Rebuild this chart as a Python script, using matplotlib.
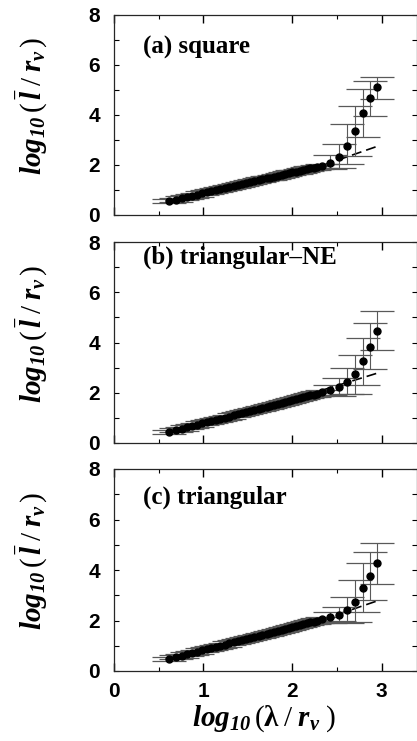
import numpy as np
import matplotlib
matplotlib.use("Agg")
from matplotlib import pyplot as plt
from matplotlib.ticker import FixedLocator

plt.rcParams['mathtext.fontset'] = 'custom'
plt.rcParams['mathtext.rm'] = 'Liberation Serif'
plt.rcParams['mathtext.it'] = 'Liberation Serif:italic'
plt.rcParams['mathtext.bf'] = 'Liberation Serif:bold'
plt.rcParams['mathtext.bfit'] = 'Liberation Serif:bold:italic'

# x = log10(lambda / r_v), shared by all three panels
x = [0.62, 0.70, 0.76, 0.82, 0.88, 0.93, 0.99, 1.04, 1.09, 1.14, 1.19, 1.24, 1.29,
     1.34, 1.39, 1.44, 1.48, 1.53, 1.57, 1.62, 1.66, 1.71, 1.75, 1.79, 1.84, 1.88,
     1.92, 1.96, 2.00, 2.04, 2.08, 2.12, 2.16, 2.20, 2.24, 2.28, 2.33,
     2.42, 2.52, 2.61, 2.70, 2.79, 2.87, 2.95]

# panel (a) square
ya = [0.55, 0.62, 0.67, 0.72, 0.78, 0.82, 0.87, 0.92, 0.95, 1.00, 1.04, 1.08, 1.12,
      1.17, 1.20, 1.25, 1.28, 1.32, 1.36, 1.39, 1.43, 1.47, 1.50, 1.54, 1.57, 1.61,
      1.64, 1.67, 1.71, 1.74, 1.77, 1.80, 1.84, 1.87, 1.90, 1.94, 1.98,
      2.09, 2.33, 2.76, 3.37, 4.07, 4.67, 5.11]
# panel (b) triangular-NE
yb = [0.43, 0.50, 0.56, 0.62, 0.67, 0.72, 0.78, 0.82, 0.87, 0.91, 0.96, 1.01, 1.05,
      1.10, 1.15, 1.19, 1.23, 1.28, 1.31, 1.36, 1.40, 1.45, 1.48, 1.52, 1.57, 1.60,
      1.64, 1.68, 1.71, 1.75, 1.79, 1.83, 1.86, 1.90, 1.93, 1.97, 2.01,
      2.11, 2.24, 2.44, 2.74, 3.28, 3.84, 4.47]
# panel (c) triangular
yc = [0.48, 0.55, 0.61, 0.66, 0.72, 0.76, 0.82, 0.86, 0.91, 0.95, 1.00, 1.04, 1.09,
      1.14, 1.18, 1.23, 1.26, 1.31, 1.35, 1.39, 1.43, 1.47, 1.51, 1.55, 1.59, 1.63,
      1.66, 1.70, 1.74, 1.78, 1.81, 1.85, 1.89, 1.93, 1.96, 2.00, 2.04,
      2.12, 2.22, 2.42, 2.74, 3.30, 3.77, 4.26]

# error bars (lower, upper); the bulk ones are tiny
bulk_err = [0.08] * 37
err_a_lo = bulk_err + [0.25, 0.45, 0.70, 1.00, 0.94, 0.71, 0.46]
err_a_hi = bulk_err + [0.30, 0.50, 0.88, 1.00, 0.96, 0.70, 0.42]
err_b_lo = bulk_err + [0.20, 0.35, 0.50, 0.80, 0.98, 0.90, 0.76]
err_b_hi = bulk_err + [0.20, 0.35, 0.54, 0.77, 0.89, 0.93, 0.79]
err_c_lo = bulk_err + [0.20, 0.25, 0.50, 0.79, 0.98, 0.96, 0.83]
err_c_hi = bulk_err + [0.20, 0.33, 0.52, 0.86, 0.99, 0.95, 0.82]

# dashed straight-line fit continued into the tail
fit_x = [2.35, 2.97]
fit_a = [2.00, 2.77]
fit_b = [2.12, 2.80]
fit_c = [2.05, 2.80]

labels = ['(a) square', '(b) triangular\u2013NE', '(c) triangular']
label_y = [0.84, 0.925, 0.86]

W, H = 417, 741
fig = plt.figure(figsize=(W / 100, H / 100), dpi=100)

left = 114 / W
width = 302.5 / W
boxes = [(15, 215), (242, 443), (469, 671)]

panels = [(ya, err_a_lo, err_a_hi, fit_a),
          (yb, err_b_lo, err_b_hi, fit_b),
          (yc, err_c_lo, err_c_hi, fit_c)]

ylab = r'$\mathbfit{log}_{\mathbfit{10}}\,(\,\bar{\mathbfit{l}}\;/\;\mathbfit{r}_{\mathbfit{v}}\,)$'
xlab = r'$\mathbfit{log}_{\mathbfit{10}}\,(\mathbf{\lambda}\;/\;\mathbfit{r}_{\mathbfit{v}}\;)$'

for i, (y, elo, ehi, fy) in enumerate(panels):
    top, bot = boxes[i]
    ax = fig.add_axes([left, (H - bot) / H, width, (bot - top) / H])
    ax.plot(fit_x, fy, color='k', lw=1.2, ls=(0, (6, 3)), zorder=1)
    ax.errorbar(x, y, yerr=[elo, ehi], fmt='o', color='k', ms=5,
                ecolor='0.35', elinewidth=0.8, capsize=12, capthick=0.9, zorder=2)
    ax.set_xlim(0, 302.5 / 89.2)
    ax.set_ylim(0, 8)
    ax.set_yticks([0, 2, 4, 6, 8])
    ax.yaxis.set_minor_locator(FixedLocator([1, 3, 5, 7]))
    ax.set_xticks([0, 1, 2, 3])
    ax.xaxis.set_minor_locator(FixedLocator([0.5, 2.5]))
    ax.tick_params(which='both', direction='in', top=True, right=True,
                   labelsize=15)
    ax.tick_params(axis='y', which='both', length=3.5, width=0.8, pad=10)
    ax.tick_params(axis='x', which='major', length=5.5, width=1.0, pad=8)
    ax.tick_params(axis='x', which='minor', length=3, width=0.8)
    for lab in ax.get_yticklabels() + ax.get_xticklabels():
        lab.set_fontweight('bold')
        lab.set_family('Liberation Sans')
    for s in ax.spines.values():
        s.set_linewidth(0.9)
        s.set_color('0.15')
    if i < 2:
        ax.tick_params(axis='x', labelbottom=False)
    else:
        ax.set_xlabel(xlab, fontsize=21)
        ax.xaxis.set_label_coords(0.494, -0.158)
    ax.set_ylabel(ylab, fontsize=21)
    ax.yaxis.set_label_coords(-0.212, 0.545)
    ax.text(0.096, label_y[i], labels[i], transform=ax.transAxes,
            fontsize=18, fontweight='bold', family='Liberation Serif',
            va='center', ha='left')

fig.savefig('out.png', dpi=100)
